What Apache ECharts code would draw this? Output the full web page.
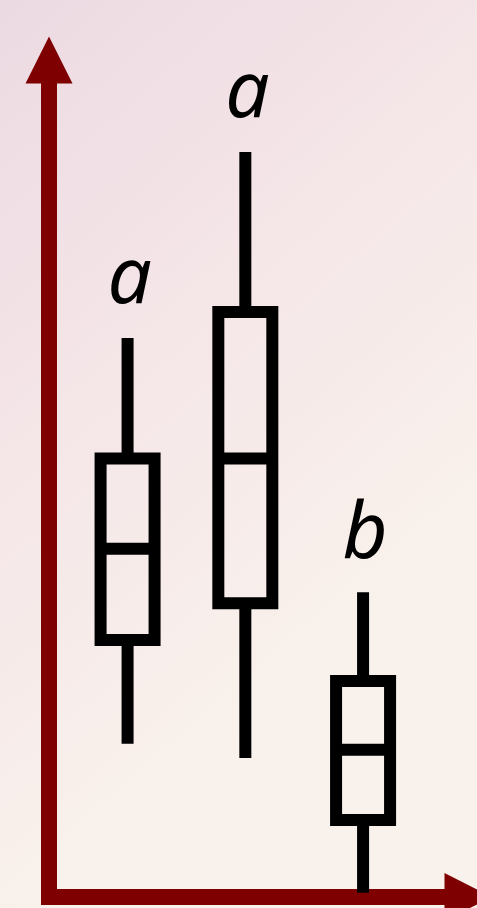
<!DOCTYPE html>
<html>
<head>
<meta charset="utf-8">
<script src="https://cdn.jsdelivr.net/npm/echarts@6/dist/echarts.min.js"></script>
<style>
html,body{margin:0;padding:0;}
#main{width:477px;height:908px;}
</style>
</head>
<body>
<div id="main"></div>
<script>
// 数据
var categories = ['1', '2', '3'];
var minVals = [18.3, 16.6, 0.5];
var q1Vals = [30.7, 35.1, 9.2];
var medianVals = [41.6, 52.4, 17.6];
var q3Vals = [52.4, 69.9, 25.8];
var maxVals = [66.8, 89.0, 36.4];
var letters = ['a', 'a', 'b'];

var axisColor = '#7f0000';
var boxData = categories.map(function (c, i) {
	return [i, minVals[i], q1Vals[i], medianVals[i], q3Vals[i], maxVals[i]];
});

var chart = echarts.init(document.getElementById('main'));

function renderBox(params, api) {
	var i = api.value(0);
	var pMin = api.coord([i, api.value(1)]);
	var pQ1 = api.coord([i, api.value(2)]);
	var pMed = api.coord([i, api.value(3)]);
	var pQ3 = api.coord([i, api.value(4)]);
	var pMax = api.coord([i, api.value(5)]);
	var cx = pMed[0];
	var w = 54;
	var st = { stroke: '#000', lineWidth: 12, fill: 'none' };
	return {
		type: 'group',
		children: [{
			type: 'line',
			shape: { x1: cx, y1: pQ3[1], x2: cx, y2: pMax[1] },
			style: st
		}, {
			type: 'line',
			shape: { x1: cx, y1: pQ1[1], x2: cx, y2: pMin[1] },
			style: st
		}, {
			type: 'rect',
			shape: { x: cx - w / 2, y: pQ3[1], width: w, height: pQ1[1] - pQ3[1] },
			style: st
		}, {
			type: 'line',
			shape: { x1: cx - w / 2, y1: pMed[1], x2: cx + w / 2, y2: pMed[1] },
			style: st
		}, {
			type: 'text',
			x: cx + 2,
			y: pMax[1] - 57,
			style: {
				text: letters[params.dataIndex],
				fill: '#000',
				font: 'italic 78px "Noto Sans"',
				align: 'center',
				verticalAlign: 'middle'
			}
		}]
	};
}

var option = {
	backgroundColor: new echarts.graphic.LinearGradient(0, 0, 1, 0.6, [
		{ offset: 0, color: '#ecdae2' },
		{ offset: 0.5, color: '#f5e6e8' },
		{ offset: 1, color: '#f9f2ec' }
	]),
	grid: [
		{ left: 49, right: 9, top: 60, bottom: 11 },
		{ left: 68.7, width: 353.25, top: 60, bottom: 11 }
	],
	xAxis: [{
		gridIndex: 0,
		type: 'value',
		min: 0,
		max: 1,
		axisLine: {
			show: true,
			onZero: false,
			symbol: ['none', 'triangle'],
			symbolSize: [48, 47],
			lineStyle: { color: axisColor, width: 16, cap: 'square' }
		},
		axisTick: { show: false },
		axisLabel: { show: false },
		splitLine: { show: false }
	}, {
		gridIndex: 1,
		type: 'category',
		data: categories,
		show: false
	}],
	yAxis: [{
		gridIndex: 0,
		type: 'value',
		min: 0,
		max: 100,
		axisLine: {
			show: true,
			onZero: false,
			symbol: ['none', 'triangle'],
			symbolSize: [47, 47],
			lineStyle: { color: axisColor, width: 16, cap: 'square' }
		},
		axisTick: { show: false },
		axisLabel: { show: false },
		splitLine: { show: false }
	}, {
		gridIndex: 1,
		type: 'value',
		min: 0,
		max: 100,
		show: false
	}],
	series: [{
		type: 'custom',
		xAxisIndex: 1,
		yAxisIndex: 1,
		renderItem: renderBox,
		data: boxData,
		silent: true
	}]
};
chart.setOption(option);
</script>
</body>
</html>
